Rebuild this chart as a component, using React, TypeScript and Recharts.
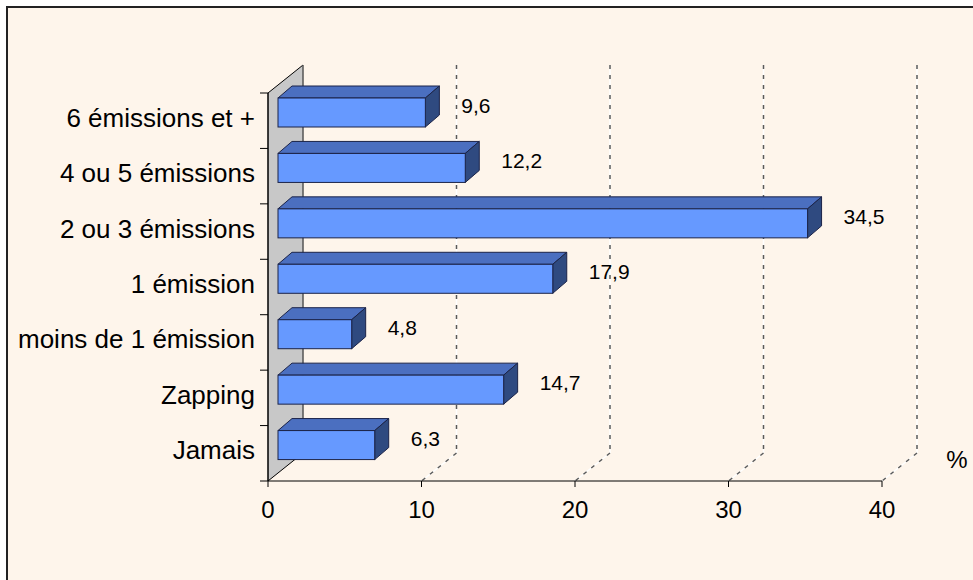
import React from 'react';
import { BarChart, Bar, XAxis, YAxis, CartesianGrid, LabelList, Customized } from 'recharts';

const categories = [
  '6 émissions et +',
  '4 ou 5 émissions',
  '2 ou 3 émissions',
  '1 émission',
  'moins de 1 émission',
  'Zapping',
  'Jamais',
];
const values = [9.6, 12.2, 34.5, 17.9, 4.8, 14.7, 6.3];
const xTicks = [0, 10, 20, 30, 40];
const unitLabel = '%';

const data = categories.map((name, i) => ({ name, value: values[i] }));

// layout
const W = 973;
const H = 580;
const MARGIN = { top: 93, right: 91, bottom: 59, left: 0 };
const Y_AXIS_W = 268;
const X_AXIS_H = 40;
const PLOT_TOP = MARGIN.top;
const PLOT_BOTTOM = H - MARGIN.bottom - X_AXIS_H;
const BAND = (PLOT_BOTTOM - PLOT_TOP) / categories.length;
const LABEL_GAP = 13;

// 3d offsets
const DEPTH_X = 35;
const DEPTH_Y = 28;
const BAR_SHIFT_X = 10;
const BAR_SHIFT_Y = 8;
const BAR_DX = 14;
const BAR_DY = 12;

const FONT = '"Liberation Sans", Arial, sans-serif';
const BG = '#FEF5EB';

function CategoryTick(props: any) {
  const { x, y, payload, index } = props;
  const axisX = x + LABEL_GAP;
  const half = BAND / 2;
  return (
    <g>
      <text x={x} y={y} dy={6} textAnchor="end" fontSize={26} fontFamily={FONT} fill="#000">
        {payload.value}
      </text>
      <line x1={axisX - 8} x2={axisX} y1={y - half} y2={y - half} stroke="#000" />
      {index === categories.length - 1 && (
        <line x1={axisX - 8} x2={axisX} y1={y + half} y2={y + half} stroke="#000" />
      )}
    </g>
  );
}

function ValueTick(props: any) {
  const { x, y, payload } = props;
  return (
    <text x={x} y={y} dy={29} textAnchor="middle" fontSize={24} fontFamily={FONT} fill="#000">
      {payload.value}
    </text>
  );
}

function GridLine(props: any) {
  const { x1, y1, y2, index } = props;
  const x = x1;
  const top = Math.min(y1, y2);
  const bottom = Math.max(y1, y2);
  if (index === 0) {
    // side wall
    const pts = `${x},${bottom} ${x},${top} ${x + DEPTH_X},${top - DEPTH_Y} ${x + DEPTH_X},${bottom - DEPTH_Y}`;
    return (
      <g key={`wall-${index}`}>
        <polygon points={pts} fill="#C8C8C8" stroke="#000" strokeWidth={1} />
        <line x1={x + DEPTH_X} y1={top - DEPTH_Y} x2={x + DEPTH_X} y2={bottom - DEPTH_Y} stroke="#808080" />
      </g>
    );
  }
  const bx = x + DEPTH_X;
  return (
    <g key={`grid-${index}`}>
      <line x1={bx} y1={top - DEPTH_Y} x2={bx} y2={bottom - DEPTH_Y} stroke="#fff" strokeWidth={1.5} />
      <line x1={bx} y1={top - DEPTH_Y} x2={bx} y2={bottom - DEPTH_Y} stroke="#5A5A5A" strokeWidth={1.5} strokeDasharray="4 6" />
      <line x1={bx} y1={bottom - DEPTH_Y} x2={x} y2={bottom} stroke="#fff" strokeWidth={1.5} />
      <line x1={bx} y1={bottom - DEPTH_Y} x2={x} y2={bottom} stroke="#5A5A5A" strokeWidth={1.5} strokeDasharray="4 6" />
    </g>
  );
}

function Bar3D(props: any) {
  const { x, y, width, height } = props;
  if (width == null || height == null) return null;
  const fx = x + BAR_SHIFT_X;
  const fy = y - BAR_SHIFT_Y;
  const w = width;
  const h = height;
  const top = `${fx},${fy} ${fx + BAR_DX},${fy - BAR_DY} ${fx + w + BAR_DX},${fy - BAR_DY} ${fx + w},${fy}`;
  const side = `${fx + w},${fy} ${fx + w + BAR_DX},${fy - BAR_DY} ${fx + w + BAR_DX},${fy + h - BAR_DY} ${fx + w},${fy + h}`;
  return (
    <g>
      <polygon points={top} fill="#4B6FC0" stroke="#1B2348" strokeWidth={1} strokeLinejoin="round" />
      <polygon points={side} fill="#2F4A80" stroke="#1B2348" strokeWidth={1} strokeLinejoin="round" />
      <rect x={fx} y={fy} width={w} height={h} fill="#6699FF" stroke="#1B2348" strokeWidth={1} />
    </g>
  );
}

function ValueLabel(props: any) {
  const { x, y, width, height, value } = props;
  const tx = x + width + BAR_SHIFT_X + 36;
  const ty = y + height / 2 - BAR_SHIFT_Y - 7;
  return (
    <text x={tx} y={ty} dy="0.36em" textAnchor="start" fontSize={21} fontFamily={FONT} fill="#000">
      {Number(value).toFixed(1).replace('.', ',')}
    </text>
  );
}

function UnitLabel() {
  return (
    <text x={957} y={459} dy="0.36em" textAnchor="middle" fontSize={24} fontFamily={FONT} fill="#000">
      {unitLabel}
    </text>
  );
}

export default function App() {
  return (
    <div style={{ position: 'absolute', left: 0, top: 0, width: W, height: H, background: '#fff', overflow: 'hidden' }}>
      <div
        style={{
          position: 'absolute',
          left: 6,
          top: 6,
          width: W + 20,
          height: H + 20,
          background: BG,
          border: '2px solid #222',
        }}
      />
      <div style={{ position: 'absolute', left: 0, top: 0 }}>
        <BarChart width={W} height={H} data={data} layout="vertical" margin={MARGIN}>
          <CartesianGrid horizontal={false} vertical={GridLine as any} stroke="none" />
          <XAxis
            type="number"
            domain={[0, 40]}
            ticks={xTicks}
            height={X_AXIS_H}
            axisLine={{ stroke: '#000' }}
            tickLine={{ stroke: '#000' }}
            tickSize={6}
            tick={<ValueTick />}
            interval={0}
          />
          <YAxis
            type="category"
            dataKey="name"
            width={Y_AXIS_W}
            axisLine={{ stroke: '#000' }}
            tickLine={false}
            tickSize={0}
            tickMargin={LABEL_GAP}
            tick={<CategoryTick />}
            interval={0}
          />
          <Bar dataKey="value" barSize={29} shape={<Bar3D />} isAnimationActive={false}>
            <LabelList dataKey="value" content={<ValueLabel />} />
          </Bar>
          <Customized component={UnitLabel} />
        </BarChart>
      </div>
    </div>
  );
}
